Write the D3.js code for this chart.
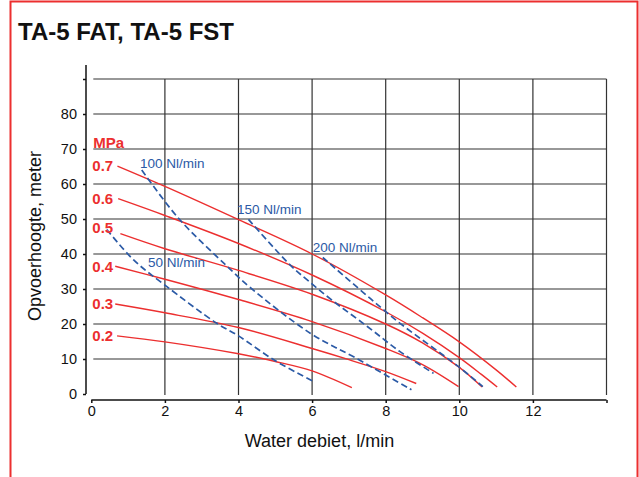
<!DOCTYPE html>
<html>
<head>
<meta charset="utf-8">
<script src="https://cdn.jsdelivr.net/npm/d3@7"></script>
<style>
body { margin: 0; background: #fff; }
text { font-family: "Liberation Sans", Arial, Helvetica, sans-serif; }
</style>
</head>
<body>
<div class="central"></div>
<script>
//Chart data
var xTicks = [0, 2, 4, 6, 8, 10, 12];
var yTicks = [0, 10, 20, 30, 40, 50, 60, 70, 80];
var xGrid = [2, 4, 6, 8, 10, 12, 14];
var yGrid = [10, 20, 30, 40, 50, 60, 70, 80, 90];

//Pump pressure curves, MPa
var pressureNames = ["0.7", "0.6", "0.5", "0.4", "0.3", "0.2"];
var p07 = [[0.71, 65.1], [2, 59.3], [4, 49.8], [6, 40], [8, 28.3], [9, 21.8], [10, 14.9], [11, 6.9], [11.55, 2]];
var p06 = [[0.73, 55.8], [2, 51], [4, 43], [6, 34], [8, 23.5], [9, 17.4], [10, 10.4], [10.6, 5.6], [11.03, 2]];
var p05 = [[0.79, 45.8], [2, 41.5], [4, 35.3], [6, 28.5], [8, 20], [9, 14.6], [10, 7.6], [10.62, 2]];
var p04 = [[0.65, 36.5], [2, 32.8], [4, 27], [6, 20.7], [8, 13], [9, 8.4], [9.98, 2.1]];
var p03 = [[0.65, 25.7], [2, 23.2], [4, 19], [6, 13], [7, 9.8], [8, 6.4], [8.83, 3]];
var p02 = [[0.7, 16.6], [2, 14.9], [4, 11.5], [5, 9.3], [6, 6.6], [7.08, 1.8]];

//Air consumption curves, Nl/min
var airNames = ["50 Nl/min", "100 Nl/min", "150 Nl/min", "200 Nl/min"];
var a50 = [[0.42, 47], [1.15, 38.3], [2, 31.1], [3.41, 20.2], [4, 16.6], [5, 9.5], [6, 3.8]];
var a100 = [[1.37, 64], [2.37, 50.2], [3.68, 36.6], [4.31, 30.5], [5.96, 17.3], [7.2, 10.2], [8.7, 1.2]];
var a150 = [[4.27, 49.9], [5.4, 36.9], [5.9, 32.3], [6.53, 26.9], [7.5, 19.3], [8.39, 12.1], [9.3, 5.9]];
var a200 = [[6.29, 39], [7.58, 27.3], [8.39, 20.2], [9.98, 7.8], [10.64, 2.1]];
//Where the air labels sit (data units, left / baseline)
var airLabelAt = [[1.54, 36.3], [1.32, 64.6], [3.96, 51.4], [6.02, 40.6]];

var pressureSeries = [p07, p06, p05, p04, p03, p02];
var airSeries = [a50, a100, a150, a200];

var red = "#ec2f2f",
	blue = "#2b5aa6",
	gridColor = "#333";

//Width and height of page
var width = 639,
	height = 477;

var x = d3.scaleLinear().domain([0, 14]).range([91.3, 606.5]);
var y = d3.scaleLinear().domain([0, 90]).range([394, 79]);

var svg = d3.select(".central")
			.append("svg")
			.attr("width", width)
			.attr("height", height);

//Red frame
svg.append("rect")
	.attr("x", 10.5)
	.attr("y", 1.5)
	.attr("width", 627)
	.attr("height", 490)
	.style("fill", "none")
	.style("stroke", red)
	.style("stroke-width", 2);

//Title
svg.append("text")
	.attr("x", 18)
	.attr("y", 40)
	.style("font-size", "24px")
	.style("font-weight", "bold")
	.style("fill", "#111")
	.text("TA-5 FAT, TA-5 FST");

//Grid
svg.selectAll(".hgrid")
	.data(yGrid)
	.enter()
	.append("line")
	.attr("class", "hgrid")
	.attr("x1", x(0) + 2)
	.attr("x2", x(14))
	.attr("y1", function(d){ return y(d); })
	.attr("y2", function(d){ return y(d); })
	.style("stroke", gridColor)
	.style("stroke-width", 1.2);

svg.selectAll(".vgrid")
	.data(xGrid)
	.enter()
	.append("line")
	.attr("class", "vgrid")
	.attr("x1", function(d){ return x(d); })
	.attr("x2", function(d){ return x(d); })
	.attr("y1", y(90))
	.attr("y2", y(0) + 1)
	.style("stroke", gridColor)
	.style("stroke-width", 1.2);

//Y axis
var yAxis = d3.axisLeft(y)
			.tickValues(yTicks.concat([90]))
			.tickSize(3)
			.tickFormat(function(d){ return d == 90 ? "" : d; });
var gy = svg.append("g")
			.attr("transform", "translate(" + 86 + ",0)")
			.call(yAxis);
gy.select(".domain").remove();
gy.selectAll(".tick line").style("stroke", "#111").style("stroke-width", 1.5);
gy.selectAll(".tick text")
	.attr("x", -9)
	.style("font-size", "14.5px")
	.style("fill", "#111");
gy.append("line")
	.attr("y1", 65)
	.attr("y2", y(0))
	.style("stroke", "#111")
	.style("stroke-width", 1.5);

//X axis
var xAxis = d3.axisBottom(x)
			.tickValues(xTicks.concat([14]))
			.tickSize(3)
			.tickFormat(function(d){ return d == 14 ? "" : d; });
var gx = svg.append("g")
			.attr("transform", "translate(0," + 400 + ")")
			.call(xAxis);
gx.select(".domain").remove();
gx.selectAll(".tick line").style("stroke", "#111").style("stroke-width", 1.5);
gx.selectAll(".tick text")
	.attr("y", 6)
	.style("font-size", "14.5px")
	.style("fill", "#111");
gx.append("line")
	.attr("x1", x(0))
	.attr("x2", x(14))
	.style("stroke", "#111")
	.style("stroke-width", 1.5);

//Axis titles
svg.append("text")
	.attr("x", x(6.2))
	.attr("y", 447)
	.attr("text-anchor", "middle")
	.style("font-size", "18px")
	.style("fill", "#111")
	.text("Water debiet, l/min");

svg.append("text")
	.attr("transform", "translate(41,236) rotate(-90)")
	.attr("text-anchor", "middle")
	.style("font-size", "18px")
	.style("fill", "#111")
	.text("Opvoerhoogte, meter");

var line = d3.line()
			.x(function(d){ return x(d[0]); })
			.y(function(d){ return y(d[1]); })
			.curve(d3.curveCatmullRom.alpha(0.5));

//Pressure curves
svg.selectAll(".pcurve")
	.data(pressureSeries)
	.enter()
	.append("path")
	.attr("class", "pcurve")
	.attr("d", line)
	.style("fill", "none")
	.style("stroke", red)
	.style("stroke-width", 1.4);

//Air curves
svg.selectAll(".acurve")
	.data(airSeries)
	.enter()
	.append("path")
	.attr("class", "acurve")
	.attr("d", line)
	.style("fill", "none")
	.style("stroke", blue)
	.style("stroke-width", 1.7)
	.style("stroke-dasharray", "6.5,3.5");

//Pressure labels
svg.append("text")
	.attr("x", x(0) + 2)
	.attr("y", y(71.7))
	.attr("dy", "0.35em")
	.style("font-size", "15px")
	.style("font-weight", "bold")
	.style("fill", red)
	.text("MPa");

svg.selectAll(".plabel")
	.data(pressureNames)
	.enter()
	.append("text")
	.attr("class", "plabel")
	.attr("x", x(0) + 1)
	.attr("y", function(d, i){
		//0.5 label sits a bit higher than its line start
		var v = pressureSeries[i][0][1];
		if(d == "0.5") { v = v + 1.6; }
		return y(v);
	})
	.attr("dy", "0.35em")
	.style("font-size", "15px")
	.style("font-weight", "bold")
	.style("fill", red)
	.text(function(d){ return d; });

//Air labels
svg.selectAll(".alabel")
	.data(airNames)
	.enter()
	.append("text")
	.attr("class", "alabel")
	.attr("x", function(d, i){ return x(airLabelAt[i][0]); })
	.attr("y", function(d, i){ return y(airLabelAt[i][1]); })
	.style("font-size", "13.5px")
	.style("fill", blue)
	.text(function(d){ return d; });
</script>
</body>
</html>
